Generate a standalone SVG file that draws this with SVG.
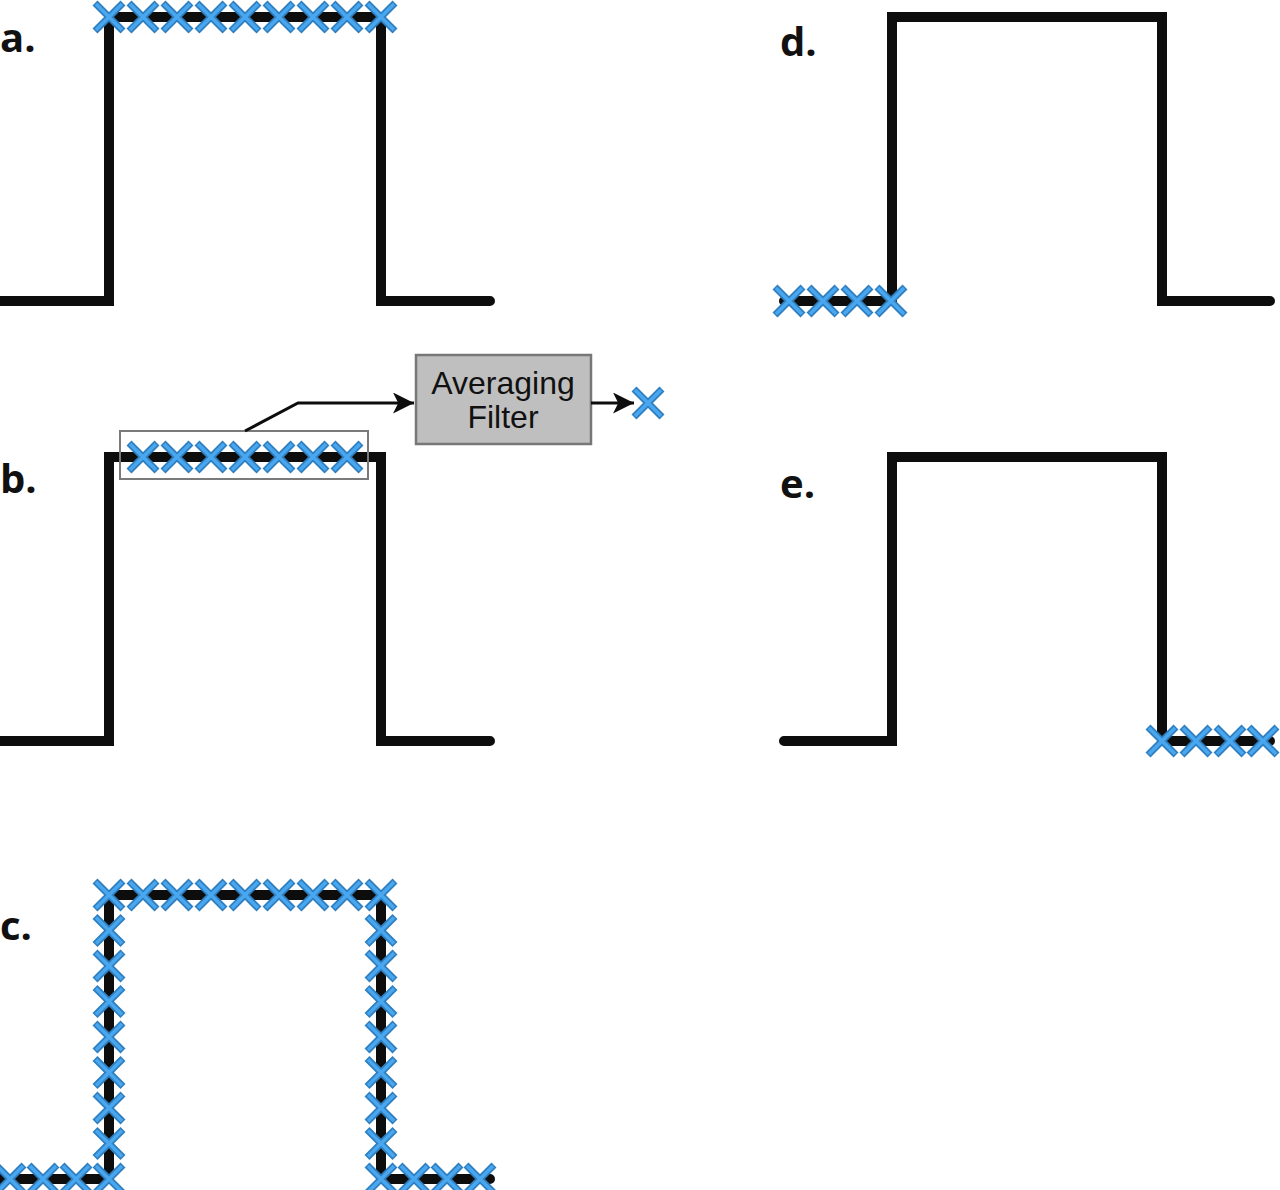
<svg xmlns="http://www.w3.org/2000/svg" xmlns:xlink="http://www.w3.org/1999/xlink" width="1280" height="1190" viewBox="0 0 1280 1190">
<style>
.sig{fill:none;stroke:#0d0d0d;stroke-width:10;stroke-linejoin:miter;stroke-linecap:round}
.lbl{font-family:"Open Sans","Liberation Sans",sans-serif;font-weight:bold;font-size:40px;fill:#111}
.ftxt{font-family:"Liberation Sans","DejaVu Sans",sans-serif;font-size:32px;fill:#111;text-anchor:middle}
.conn{fill:none;stroke:#0d0d0d;stroke-width:3}
</style>
<defs>
<g id="x">
<path d="M-14,-14L14,14M14,-14L-14,14" stroke="#2f7fc0" stroke-width="7" stroke-linecap="butt"/>
<path d="M-13,-13L13,13M13,-13L-13,13" stroke="#49a7ef" stroke-width="3.5"/>
</g>
<marker id="ah" viewBox="0 0 10 10" refX="10" refY="5" markerWidth="7" markerHeight="7" markerUnits="strokeWidth" orient="auto">
<path d="M0,0L10,5L0,10L2.5,5Z" fill="#0d0d0d"/>
</marker>
</defs>
<rect width="1280" height="1190" fill="#fff"/>

<g id="panel-a">
<text class="lbl" x="0" y="52">a.</text>
<path class="sig" d="M-5,301H109V17H381V301H490"/>
<use xlink:href="#x" x="109" y="17"/><use xlink:href="#x" x="143" y="17"/><use xlink:href="#x" x="177" y="17"/>
<use xlink:href="#x" x="211" y="17"/><use xlink:href="#x" x="245" y="17"/><use xlink:href="#x" x="279" y="17"/>
<use xlink:href="#x" x="313" y="17"/><use xlink:href="#x" x="347" y="17"/><use xlink:href="#x" x="381" y="17"/>
</g>

<g id="panel-b">
<text class="lbl" x="0" y="493">b.</text>
<path class="sig" d="M-5,741H109V457H381V741H490"/>
<rect x="120" y="431" width="248" height="48" fill="none" stroke="#7a7a7a" stroke-width="2"/>
<use xlink:href="#x" x="143" y="457"/><use xlink:href="#x" x="177" y="457"/><use xlink:href="#x" x="211" y="457"/>
<use xlink:href="#x" x="245" y="457"/><use xlink:href="#x" x="279" y="457"/><use xlink:href="#x" x="313" y="457"/>
<use xlink:href="#x" x="347" y="457"/>
</g>

<g id="filter">
<rect x="416" y="355" width="175" height="89" fill="#bfbfbf" stroke="#777" stroke-width="2.5"/>
<text class="ftxt" x="503" y="394">Averaging</text>
<text class="ftxt" x="503" y="428">Filter</text>
</g>

<g id="filter-output">
<use xlink:href="#x" x="648" y="403"/>
</g>

<g id="connectors">
<path class="conn" d="M245,431L298,403H414" marker-end="url(#ah)"/>
<path class="conn" d="M591,403H634" marker-end="url(#ah)"/>
</g>

<g id="panel-c">
<text class="lbl" x="0" y="940">c.</text>
<path class="sig" d="M-5,1179H109V895H381V1179H490"/>
<use xlink:href="#x" x="10" y="1179"/><use xlink:href="#x" x="43" y="1179"/><use xlink:href="#x" x="76" y="1179"/><use xlink:href="#x" x="109" y="1179"/>
<use xlink:href="#x" x="109" y="1143.5"/><use xlink:href="#x" x="109" y="1108"/><use xlink:href="#x" x="109" y="1072.5"/><use xlink:href="#x" x="109" y="1037"/>
<use xlink:href="#x" x="109" y="1001.5"/><use xlink:href="#x" x="109" y="966"/><use xlink:href="#x" x="109" y="930.5"/>
<use xlink:href="#x" x="109" y="895"/><use xlink:href="#x" x="143" y="895"/><use xlink:href="#x" x="177" y="895"/>
<use xlink:href="#x" x="211" y="895"/><use xlink:href="#x" x="245" y="895"/><use xlink:href="#x" x="279" y="895"/>
<use xlink:href="#x" x="313" y="895"/><use xlink:href="#x" x="347" y="895"/><use xlink:href="#x" x="381" y="895"/>
<use xlink:href="#x" x="381" y="930.5"/><use xlink:href="#x" x="381" y="966"/><use xlink:href="#x" x="381" y="1001.5"/><use xlink:href="#x" x="381" y="1037"/>
<use xlink:href="#x" x="381" y="1072.5"/><use xlink:href="#x" x="381" y="1108"/><use xlink:href="#x" x="381" y="1143.5"/>
<use xlink:href="#x" x="381" y="1179"/><use xlink:href="#x" x="414" y="1179"/><use xlink:href="#x" x="447" y="1179"/><use xlink:href="#x" x="480" y="1179"/>
</g>

<g id="panel-d">
<text class="lbl" x="780" y="56">d.</text>
<path class="sig" d="M784,301H892V17H1162V301H1270"/>
<use xlink:href="#x" x="789" y="301"/><use xlink:href="#x" x="823" y="301"/><use xlink:href="#x" x="857" y="301"/><use xlink:href="#x" x="891" y="301"/>
</g>

<g id="panel-e">
<text class="lbl" x="780" y="498">e.</text>
<path class="sig" d="M784,741H892V457H1162V741H1270"/>
<use xlink:href="#x" x="1162" y="741"/><use xlink:href="#x" x="1196" y="741"/><use xlink:href="#x" x="1230" y="741"/><use xlink:href="#x" x="1263" y="741"/>
</g>
</svg>
